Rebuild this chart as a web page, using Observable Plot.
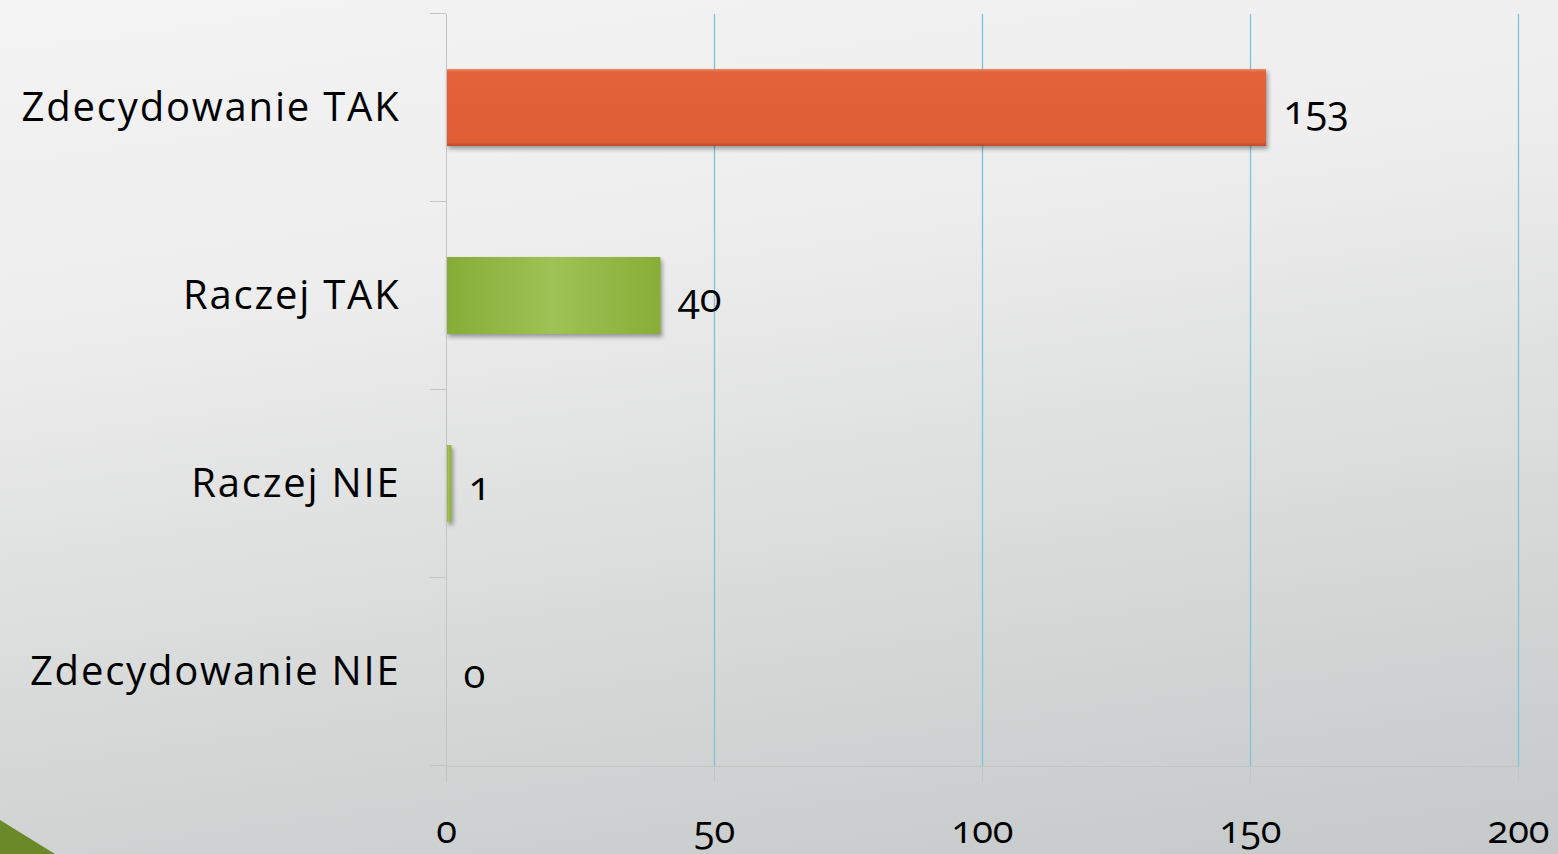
<!DOCTYPE html>
<html>
<head>
<meta charset="utf-8">
<script src="https://cdn.jsdelivr.net/npm/d3@7"></script>
<script src="https://cdn.jsdelivr.net/npm/@observablehq/plot@0.6"></script>
<style>
  html, body { margin: 0; padding: 0; }
  body {
    width: 1558px; height: 854px; overflow: hidden; position: relative;
    background: linear-gradient(172deg, #f3f3f3 0%, #eeeeee 30%, #dcdddd 60%, #c5c9c9 100%);
    font-family: "Open Sans", Lato, sans-serif;
  }
  #tri {
    position: absolute; left: 0; top: 0; width: 1558px; height: 854px;
    background: #6a8a29;
    clip-path: polygon(0px 820px, 55px 854px, 0px 854px);
  }
  #chart { position: absolute; left: 0; top: 0; }
  svg { background: transparent !important; }
  svg text { font-variant-numeric: oldstyle-nums; font-feature-settings: "onum" 1; }
  svg g[aria-label="y-axis tick label"] text { letter-spacing: 1.8px; }
  svg g[aria-label="bar"] rect { filter: drop-shadow(2px 3px 2px rgba(0,0,0,0.35)); }
</style>
</head>
<body>
<div id="tri"></div>
<div id="chart"></div>
<script>
const categories = ["Zdecydowanie TAK", "Raczej TAK", "Raczej NIE", "Zdecydowanie NIE"];
const values = [153, 40, 1, 0];
const barFills = ["url(#gOrange)", "url(#gGreen)", "url(#gGreen)", "url(#gGreen)"];
const xTicks = [0, 50, 100, 150, 200];
const gridTicks = [50, 100, 150, 200];

const data = categories.map((c, i) => ({cat: c, value: values[i], fill: barFills[i]}));

const pInner = 0.59, pOuter = 0.295;
const font = "'Open Sans', Lato, sans-serif";

const plot = Plot.plot({
  width: 1558,
  height: 854,
  marginLeft: 446,
  marginRight: 40,
  marginTop: 14,
  marginBottom: 88,
  style: {background: "transparent", fontFamily: font, color: "#000", overflow: "visible"},
  x: {domain: [0, 200], ticks: xTicks, label: null},
  y: {domain: categories, paddingInner: pInner, paddingOuter: pOuter, label: null},
  marks: [
    Plot.ruleX(gridTicks, {stroke: "#7dc3db", strokeWidth: 1.3}),
    Plot.barX(data, {x: "value", y: "cat", fill: "fill", filter: d => d.value > 0}),
    Plot.text(data, {x: "value", y: "cat", text: d => String(d.value), dx: 17, dy: 3, textAnchor: "start", fontSize: 40, fill: "#000"}),
    Plot.axisY({tickSize: 0, tickPadding: 46, fontSize: 40, fill: "#000"}),
    Plot.axisX({ticks: xTicks, tickSize: 16, tickPadding: 34, fontSize: 38, stroke: "#c4c4c4", fill: "#000", strokeOpacity: 1}),
    Plot.frame({anchor: "bottom", stroke: "#c4c4c4"}),
    Plot.frame({anchor: "left", stroke: "#c4c4c4"})
  ]
});

document.getElementById("chart").appendChild(plot);

const svg = d3.select(plot);
const defs = svg.insert("defs", ":first-child");
const go = defs.append("linearGradient").attr("id", "gOrange").attr("x1", 0).attr("y1", 0).attr("x2", 0).attr("y2", 1);
go.append("stop").attr("offset", "0%").attr("stop-color", "#f08a62");
go.append("stop").attr("offset", "4%").attr("stop-color", "#e36239");
go.append("stop").attr("offset", "95%").attr("stop-color", "#df5e36");
go.append("stop").attr("offset", "100%").attr("stop-color", "#b84a2a");
const gg = defs.append("linearGradient").attr("id", "gGreen").attr("x1", 0).attr("y1", 0).attr("x2", 1).attr("y2", 0);
gg.append("stop").attr("offset", "0%").attr("stop-color", "#86ac37");
gg.append("stop").attr("offset", "50%").attr("stop-color", "#9ec255");
gg.append("stop").attr("offset", "100%").attr("stop-color", "#88ae38");

// band boundary ticks on the left axis, from the y scale
const ys = plot.scale("y");
const step = ys.step, bw = ys.bandwidth;
const bounds = categories.map(c => ys.apply(c) - (step - bw) / 2);
bounds.push(ys.apply(categories[categories.length - 1]) + bw + (step - bw) / 2);
const xs = plot.scale("x");
const x0 = xs.apply(0);
svg.append("g").selectAll("line").data(bounds).join("line")
  .attr("x1", x0 - 16).attr("x2", x0).attr("y1", d => d).attr("y2", d => d)
  .attr("stroke", "#c4c4c4");
</script>
</body>
</html>
